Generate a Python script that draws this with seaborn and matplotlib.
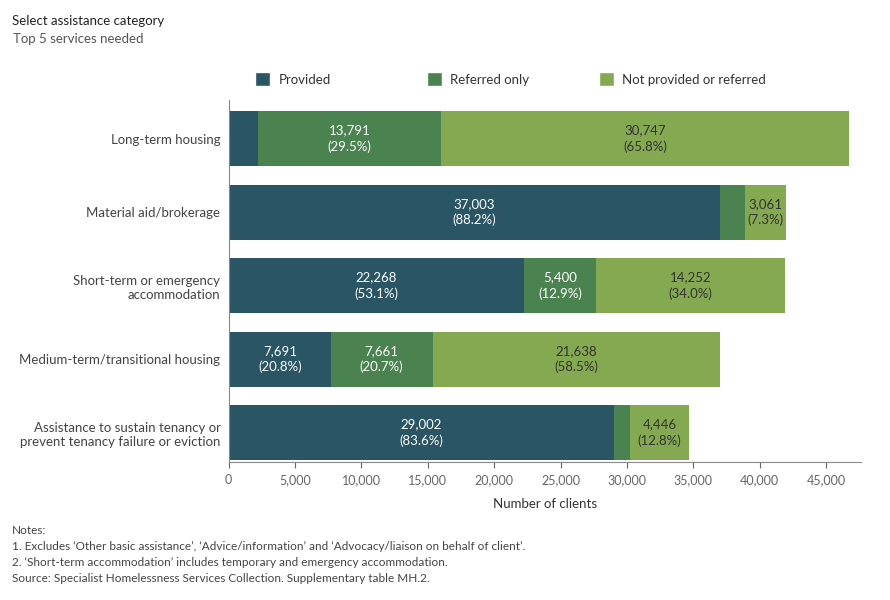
import matplotlib
matplotlib.use("Agg")
import matplotlib.pyplot as plt
import matplotlib.ticker as mticker
from matplotlib.patches import Patch
import numpy as np
import pandas as pd
import seaborn as sns

sns.set_theme(style="white")
plt.rcParams["font.family"] = ["Lato", "DejaVu Sans"]

CATEGORIES = [
    "Long-term housing",
    "Material aid/brokerage",
    "Short-term or emergency\naccommodation",
    "Medium-term/transitional housing",
    "Assistance to sustain tenancy or\nprevent tenancy failure or eviction",
]
PROVIDED = [2190, 37003, 22268, 7691, 29002]
REFERRED = [13791, 1890, 5400, 7661, 1243]
NOT_PROVIDED = [30747, 3061, 14252, 21638, 4446]

SERIES = ["Provided", "Referred only", "Not provided or referred"]
COLORS = ["#2a5565", "#4a8350", "#84a951"]
TEXT_COLORS = ["white", "white", "#333333"]

df = pd.DataFrame({"category": CATEGORIES, "Provided": PROVIDED,
                   "Referred only": REFERRED,
                   "Not provided or referred": NOT_PROVIDED})
df["c1"] = df["Provided"]
df["c2"] = df["c1"] + df["Referred only"]
df["c3"] = df["c2"] + df["Not provided or referred"]

fig = plt.figure(figsize=(8.9, 6), dpi=100)
ax = fig.add_axes([0.257, 0.23, 0.71, 0.603])

# stacked bars: draw cumulative totals back to front
for col, color in zip(["c3", "c2", "c1"], COLORS[::-1]):
    sns.barplot(data=df, x=col, y="category", color=color, orient="h",
                width=0.75, saturation=1, linewidth=0, ax=ax)

for i, row in df.iterrows():
    total = row["c3"]
    left = 0
    for s, tc in zip(SERIES, TEXT_COLORS):
        v = row[s]
        if v > 2500:
            ax.text(left + v / 2, i, f"{v:,}\n({v / total * 100:.1f}%)",
                    ha="center", va="center", color=tc, fontsize=9.5,
                    linespacing=1.35)
        left += v

ax.set_xlim(0, 47600)
ax.set_ylim(4.4, -0.525)
ax.xaxis.set_major_locator(mticker.MultipleLocator(5000))
ax.xaxis.set_major_formatter(mticker.FuncFormatter(lambda v, p: f"{v:,.0f}"))
ax.tick_params(axis="x", colors="#666666", labelsize=9, length=4, width=0.8,
               bottom=True, pad=5)
ax.tick_params(axis="y", colors="#444444", labelsize=9.5, length=0, pad=6)
for lbl in ax.get_yticklabels():
    lbl.set_multialignment("right")
ax.set_xlabel("Number of clients", fontsize=9.5, color="#333333", labelpad=8)
ax.set_ylabel("")
for sp in ["top", "right"]:
    ax.spines[sp].set_visible(False)
for sp in ["left", "bottom"]:
    ax.spines[sp].set_color("#888888")
    ax.spines[sp].set_linewidth(0.8)

# legend: three evenly spaced entries
for k, (s, c) in enumerate(zip(SERIES, COLORS)):
    fig.legend(handles=[Patch(facecolor=c, label=s)], loc="center left",
               bbox_to_anchor=(0.286 + k * 0.1933, 0.868), frameon=False,
               fontsize=9.5, handlelength=1.2, handleheight=1.2,
               handletextpad=0.6, labelcolor="#333333", borderpad=0,
               borderaxespad=0)

fig.text(0.013, 0.965, "Select assistance category", fontsize=9.5,
         color="#222222", va="center")
fig.text(0.015, 0.935, "Top 5 services needed", fontsize=9.5,
         color="#555555", va="center")

notes = ["Notes:",
         "1. Excludes \u2018Other basic assistance\u2019, \u2018Advice/information\u2019 and \u2018Advocacy/liaison on behalf of client\u2019.",
         "2. \u2018Short-term accommodation\u2019 includes temporary and emergency accommodation.",
         "Source: Specialist Homelessness Services Collection. Supplementary table MH.2."]
for k, line in enumerate(notes):
    fig.text(0.013, 0.115 - k * 0.0263, line, fontsize=8.5, color="#444444",
             va="center")

fig.savefig("out.png", dpi=100)
